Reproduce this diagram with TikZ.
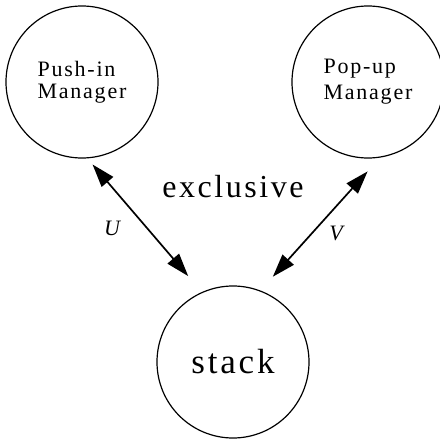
\documentclass[tikz,border=0pt]{standalone}
\usepackage{fontspec}
\setmainfont{Liberation Serif}
\newfontfamily\widefont[LetterSpace=8]{Liberation Serif}
\usetikzlibrary{arrows.meta}

\begin{document}
\begin{tikzpicture}[x=1pt,y=-1pt,>={Triangle[length=23pt,width=15pt]},line cap=round,
  proc/.style={circle,draw,line width=1.2pt,minimum size=152pt,inner sep=0pt,align=left},
  link/.style={<->,line width=1.7pt}]
\useasboundingbox (0,0) rectangle (440,439);
% the three boxes
\node[proc,font=\fontsize{22}{22}\selectfont\widefont] (push) at (82,82) {Push-in\\Manager};
\node[proc,font=\fontsize{22}{26}\selectfont\widefont] (pop) at (368,82) {Pop-up\\Manager};
\node[proc,font=\fontsize{35}{35}\selectfont\widefont] (stack) at (233,362) {stack};
% links to the stack
\draw[link,shorten <=8pt,shorten >=21pt] (push.-86) -- (stack.114);
\draw[link,shorten <=18.5pt,shorten >=18.5pt] (pop.-81.5) -- (stack.69);
\node[anchor=base,font=\fontsize{32}{32}\selectfont\widefont] (excl) at (233,197) {exclusive};
\node[anchor=base,font=\fontsize{22}{22}\selectfont\itshape] (u) at (112,235) {U};
\node[anchor=base,font=\fontsize{22}{22}\selectfont\itshape] (v) at (336,240) {V};
\end{tikzpicture}
\end{document}
